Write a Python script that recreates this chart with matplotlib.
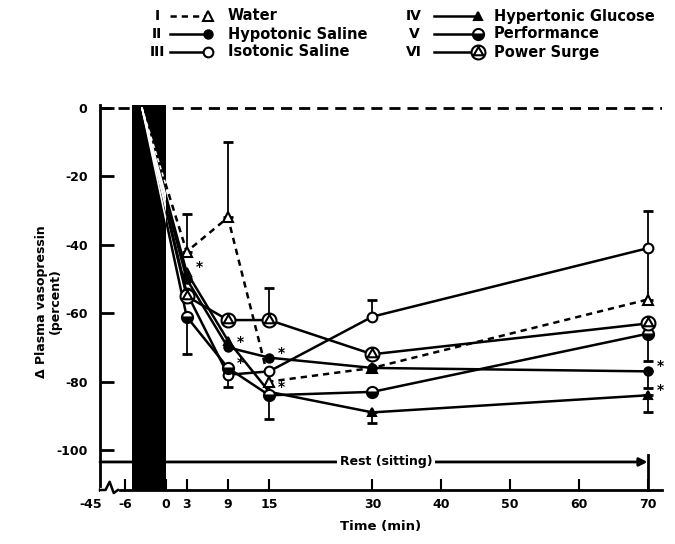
import numpy as np
import matplotlib
matplotlib.use('Agg')
import matplotlib.pyplot as plt
from matplotlib.lines import Line2D
from matplotlib.path import Path

plt.rcParams['font.family'] = ['DejaVu Sans']
plt.rcParams['font.weight'] = 'bold'

# time axis (min); the first entry is the baseline where every curve starts at 0
time = [-3.5, 3, 9, 15, 30, 70]
tick_pos = [-6, 0, 3, 9, 15, 30, 40, 50, 60, 70]
tick_lab = ['-6', '0', '3', '9', '15', '30', '40', '50', '60', '70']
ytick_pos = [0, -20, -40, -60, -80, -100]
ytick_lab = ['0', '-20', '-40', '-60', '-80', '-100']

# percent change in plasma vasopressin
water = [0, -42, -32, -80, -76, -56]
hypotonic = [0, -50, -70, -73, -76, -77]
isotonic = [0, -54, -78, -77, -61, -41]
glucose = [0, -48, -68, -83, -89, -84]
performance = [0, -61, -76, -84, -83, -66]
power_surge = [0, -55, -62, -62, -72, -63]

# one-sided error bars: positive drawn up, negative drawn down
water_err = [0, 11, 22, 0, 0, 15]
hypotonic_err = [0, 0, 0, 0, 0, -5]
isotonic_err = [0, 0, -3.5, 0, 5, 11]
glucose_err = [0, 0, 0, 0, -3, -5]
performance_err = [0, -11, 0, -7, 0, -8]
power_surge_err = [0, 0, 0, 9.5, 0, 0]

# points flagged with an asterisk
hypotonic_sig = [0, 0, 1, 1, 0, 1]
glucose_sig = [0, 1, 0, 1, 0, 1]
performance_sig = [0, 0, 1, 0, 0, 0]

drink_period = (-5, 0)
rest_level = -103.5

circle = Path.unit_circle()
tri = Path.unit_regular_polygon(3)
surge_marker = Path.make_compound_path(circle, Path(tri.vertices * 0.8, tri.codes))

styles = {
    'Water': dict(ls=(0, (2.5, 2)), marker='^', ms=7, mfc='white'),
    'Hypotonic Saline': dict(ls='-', marker='o', ms=6, mfc='black'),
    'Isotonic Saline': dict(ls='-', marker='o', ms=7, mfc='white'),
    'Hypertonic Glucose': dict(ls='-', marker='^', ms=6, mfc='black'),
    'Performance': dict(ls='-', marker='o', ms=8, mfc='black', fillstyle='bottom',
                        markerfacecoloralt='white'),
    'Power Surge': dict(ls='-', marker=surge_marker, ms=10, mfc='white'),
}

series = [
    ('I', 'Water', water, water_err, None),
    ('II', 'Hypotonic Saline', hypotonic, hypotonic_err, hypotonic_sig),
    ('III', 'Isotonic Saline', isotonic, isotonic_err, None),
    ('IV', 'Hypertonic Glucose', glucose, glucose_err, glucose_sig),
    ('V', 'Performance', performance, performance_err, performance_sig),
    ('VI', 'Power Surge', power_surge, power_surge_err, None),
]

W, H = 675, 544
fig = plt.figure(figsize=(W / 100, H / 100), dpi=100)
ax = fig.add_axes([100 / W, 54 / H, 562 / W, 385 / H])
ax.set_xlim(-9.6, 72.1)
ax.set_ylim(-111.7, 0.9)

for sp in ['top', 'right']:
    ax.spines[sp].set_visible(False)
for sp in ['left', 'bottom']:
    ax.spines[sp].set_linewidth(2)

band = ax.axvspan(drink_period[0], drink_period[1], color='black', zorder=3, lw=0)

ax.axhline(0, color='black', lw=2, ls=(0, (4, 2.5)), zorder=3.5)

for num, name, vals, err, sig in series:
    st = styles[name]
    ax.plot(time, vals, color='black', lw=1.8, ls=st['ls'], zorder=2)
    wl, = ax.plot(time, vals, color='white', lw=1.2, ls=st['ls'], zorder=4)
    wl.set_clip_path(band)

    t_e = [t for t, e in zip(time, err) if e != 0]
    v_e = [v for v, e in zip(vals, err) if e != 0]
    lo = [max(-e, 0) for e in err if e != 0]
    hi = [max(e, 0) for e in err if e != 0]
    if t_e:
        ax.errorbar(t_e, v_e, yerr=[lo, hi], fmt='none', ecolor='black',
                    elinewidth=1.3, capsize=3.5, capthick=2, zorder=2.5)

    mk = {k: v for k, v in st.items() if k != 'ls'}
    ax.plot(time[1:], vals[1:], ls='none', mec='black', mew=1.5, zorder=5, **mk)

    if sig:
        for t, v, s in zip(time, vals, sig):
            if s:
                ax.text(t + 1.3, v + 1.5, '*', fontsize=10, ha='left', va='center', zorder=6)

# rest period arrow
ax.annotate('', xy=(70, rest_level), xytext=(-9.6, rest_level),
            arrowprops=dict(arrowstyle='-|>', lw=2, color='black', mutation_scale=12,
                            shrinkA=0, shrinkB=0), zorder=2)
ax.plot([70, 70], [rest_level + 2, -111.7], color='black', lw=2, clip_on=False)
ax.text(32, rest_level, 'Rest (sitting)', fontsize=9, ha='center', va='center',
        bbox=dict(facecolor='white', edgecolor='none', pad=2), zorder=2.8)

# broken axis mark near the origin
ax.plot([-9.3, -7.2], [-111.7, -111.7], color='white', lw=3, clip_on=False, zorder=6)
ax.plot([-9.6, -8.8, -8.2, -7.6, -7.0], [-111.7, -111.7, -109.3, -112.6, -111.7],
        color='black', lw=1.8, clip_on=False, zorder=7)

ax.set_xticks(tick_pos)
ax.set_xticklabels(tick_lab, fontsize=9, fontweight='bold')
ax.set_yticks(ytick_pos)
ax.set_yticklabels(ytick_lab, fontsize=9, fontweight='bold')
ax.tick_params(axis='x', direction='in', length=8, width=1.5, pad=6)
ax.tick_params(axis='y', direction='in', length=10, width=2, pad=9)
ax.text(-11, -0.021, '-45', transform=ax.get_xaxis_transform(), fontsize=9,
        fontweight='bold', ha='center', va='top')

ax.text(-0.092, 0.49, 'Δ Plasma vasopressin\n(percent)', transform=ax.transAxes,
        rotation=90, ha='center', va='center', fontsize=9, fontweight='bold',
        multialignment='center', linespacing=1.1)
ax.text(0.5, -0.077, 'Time (min)', transform=ax.transAxes, ha='center', va='top',
        fontsize=9.5, fontweight='bold')

# legend in two columns with roman numerals
cols = [(157, 170, 208, 228), (414, 434, 478, 494)]
rows = [16, 34, 52]
for i, (num, name, vals, err, sig) in enumerate(series):
    xn, x0, x1, xt = cols[i // 3]
    y = 1 - rows[i % 3] / H
    st = styles[name]
    fig.text(xn / W, y, num, ha='center', va='center', fontsize=10, fontweight='bold')
    fig.add_artist(Line2D([x0 / W, x1 / W], [y, y], color='black', lw=1.8, ls=st['ls'],
                          transform=fig.transFigure))
    mk = {k: v for k, v in st.items() if k != 'ls'}
    fig.add_artist(Line2D([x1 / W], [y], ls='none', mec='black', mew=1.5,
                          transform=fig.transFigure, **mk))
    fig.text(xt / W, y, name, ha='left', va='center', fontsize=10.5, fontweight='bold')

fig.savefig('out.png', dpi=100)
